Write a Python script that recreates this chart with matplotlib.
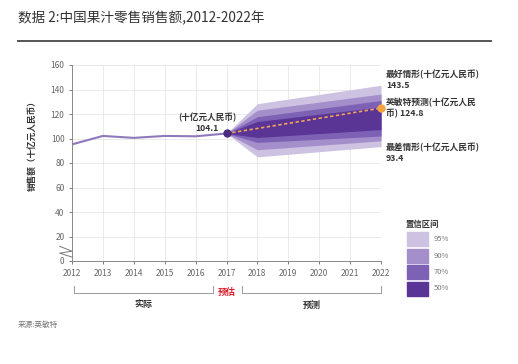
import matplotlib
matplotlib.use('Agg')
import matplotlib.pyplot as plt

plt.rcParams['font.family'] = ['Noto Sans CJK SC', 'DejaVu Sans']

# data
hist_years = [2012, 2013, 2014, 2015, 2016, 2017]
hist_values = [95.2, 102.1, 100.5, 102.1, 101.8, 104.1]

fc_years = [2017, 2018, 2022]
fc_center = [104.1, 108.2, 124.8]
# band bounds (lower, upper) per confidence level
band_labels = ['95%', '90%', '70%', '50%']
band_lower = {
    '95%': [104.1, 85.0, 93.4],
    '90%': [104.1, 90.8, 98.1],
    '70%': [104.1, 96.8, 102.0],
    '50%': [104.1, 100.8, 107.3],
}
band_upper = {
    '95%': [104.1, 128.4, 143.5],
    '90%': [104.1, 123.1, 136.3],
    '70%': [104.1, 117.8, 131.0],
    '50%': [104.1, 113.9, 125.7],
}
band_colors = ['#cdc2e2', '#a58fcb', '#7d61b5', '#5a3596']

x_ticks = list(range(2012, 2023))
y_ticks = list(range(0, 161, 20))

W, H = 518, 364
fig = plt.figure(figsize=(W / 100, H / 100), dpi=100)

# title and rule
fig.text(18 / W, 1 - 18 / H, '数据 2:中国果汁零售销售额,2012-2022年', fontsize=9.8,
         color='#333333', va='center', ha='left')
fig.add_artist(plt.Line2D([18 / W, 491 / W], [1 - 41 / H, 1 - 41 / H],
                          color='#555555', lw=1.4))

ax = fig.add_axes([72 / W, 1 - 261 / H, (381 - 72) / W, (261 - 65) / H])

for lab, col in zip(band_labels, band_colors):
    ax.fill_between(fc_years, band_lower[lab], band_upper[lab], color=col, lw=0, zorder=2)

ax.plot(hist_years, hist_values, color='#8f78bb', lw=1.5, zorder=3)
ax.plot(fc_years, fc_center, color='#f2a35a', lw=1.2, ls=(0, (2, 1.5)), zorder=4)
ax.plot([2017], [104.1], 'o', color='#4b2a80', ms=5, zorder=5)
ax.plot([2022], [124.8], 'o', color='#f5a340', ms=5, zorder=5, clip_on=False)

ax.set_xlim(2012, 2022)
ax.set_ylim(0, 160)
ax.set_xticks(x_ticks)
ax.set_yticks(y_ticks)
ax.tick_params(labelsize=6, colors='#666666', length=2, width=0.6)
ax.grid(color='#e6e6e6', lw=0.6, zorder=0)
for s in ['top', 'right']:
    ax.spines[s].set_visible(False)
for s in ['left', 'bottom']:
    ax.spines[s].set_color('#888888')
    ax.spines[s].set_linewidth(0.7)

# axis break mark
ax.plot([-0.04, 0.0, -0.04, 0.0], [0.075, 0.05, 0.04, 0.02], transform=ax.transAxes,
        color='#777777', lw=0.7, clip_on=False)

ax.set_ylabel('销售额（十亿元人民币）', fontsize=6.2, fontweight='bold', color='#333333')
ax.yaxis.set_label_coords(-0.115, 0.60)

# annotations
ax.text(2016.37, 104.8, '(十亿元人民币)\n104.1', fontsize=6.2, fontweight='bold',
        color='#333333', ha='center', va='bottom', linespacing=1.2)
tx = 386 / W
fig.text(tx, 1 - 80 / H, '最好情形(十亿元人民币)\n143.5', fontsize=6.3, fontweight='bold',
         color='#333333', va='center', linespacing=1.3)
fig.text(tx, 1 - 108 / H, '英敏特预测(十亿元人民\n币) 124.8', fontsize=6.3, fontweight='bold',
         color='#333333', va='center', linespacing=1.3)
fig.text(tx, 1 - 153 / H, '最差情形(十亿元人民币)\n93.4', fontsize=6.3, fontweight='bold',
         color='#333333', va='center', linespacing=1.3)

# legend
fig.text(406 / W, 1 - 224 / H, '置信区间', fontsize=6, fontweight='bold',
         color='#333333', va='center')
for i, (lab, col) in enumerate(zip(band_labels, band_colors)):
    y0 = 232 + i * 16.5
    fig.add_artist(plt.Rectangle((407 / W, 1 - (y0 + 14) / H), 21 / W, 14 / H,
                                 color=col, transform=fig.transFigure))
    fig.text(434 / W, 1 - (y0 + 7) / H, lab, fontsize=5.5, color='#777777', va='center')


# period brackets below x axis
def bracket(x0, x1, ypix):
    yb = 1 - ypix / H
    yt = 1 - (ypix - 7) / H
    inv = fig.transFigure.inverted()
    fx0 = inv.transform(ax.transData.transform((x0, 0)))[0]
    fx1 = inv.transform(ax.transData.transform((x1, 0)))[0]
    fig.add_artist(plt.Line2D([fx0, fx0, fx1, fx1], [yt, yb, yb, yt],
                              color='#999999', lw=0.7))
    return (fx0 + fx1) / 2


mx = bracket(2012.05, 2016.55, 293)
fig.text(mx, 1 - 305 / H, '实际', fontsize=6.5, fontweight='bold', color='#333333',
         ha='center', va='center')
mx = bracket(2017.5, 2022.0, 293)
fig.text(mx, 1 - 305 / H, '预测', fontsize=6.5, fontweight='bold', color='#333333',
         ha='center', va='center')
px = fig.transFigure.inverted().transform(ax.transData.transform((2017, 0)))[0]
fig.text(px, 1 - 292 / H, '预估', fontsize=6.5, fontweight='bold', color='#d9232e',
         ha='center', va='center')

fig.text(18 / W, 1 - 325 / H, '来源:英敏特', fontsize=5.5, color='#777777', va='center')

fig.savefig('out.png', dpi=100)
